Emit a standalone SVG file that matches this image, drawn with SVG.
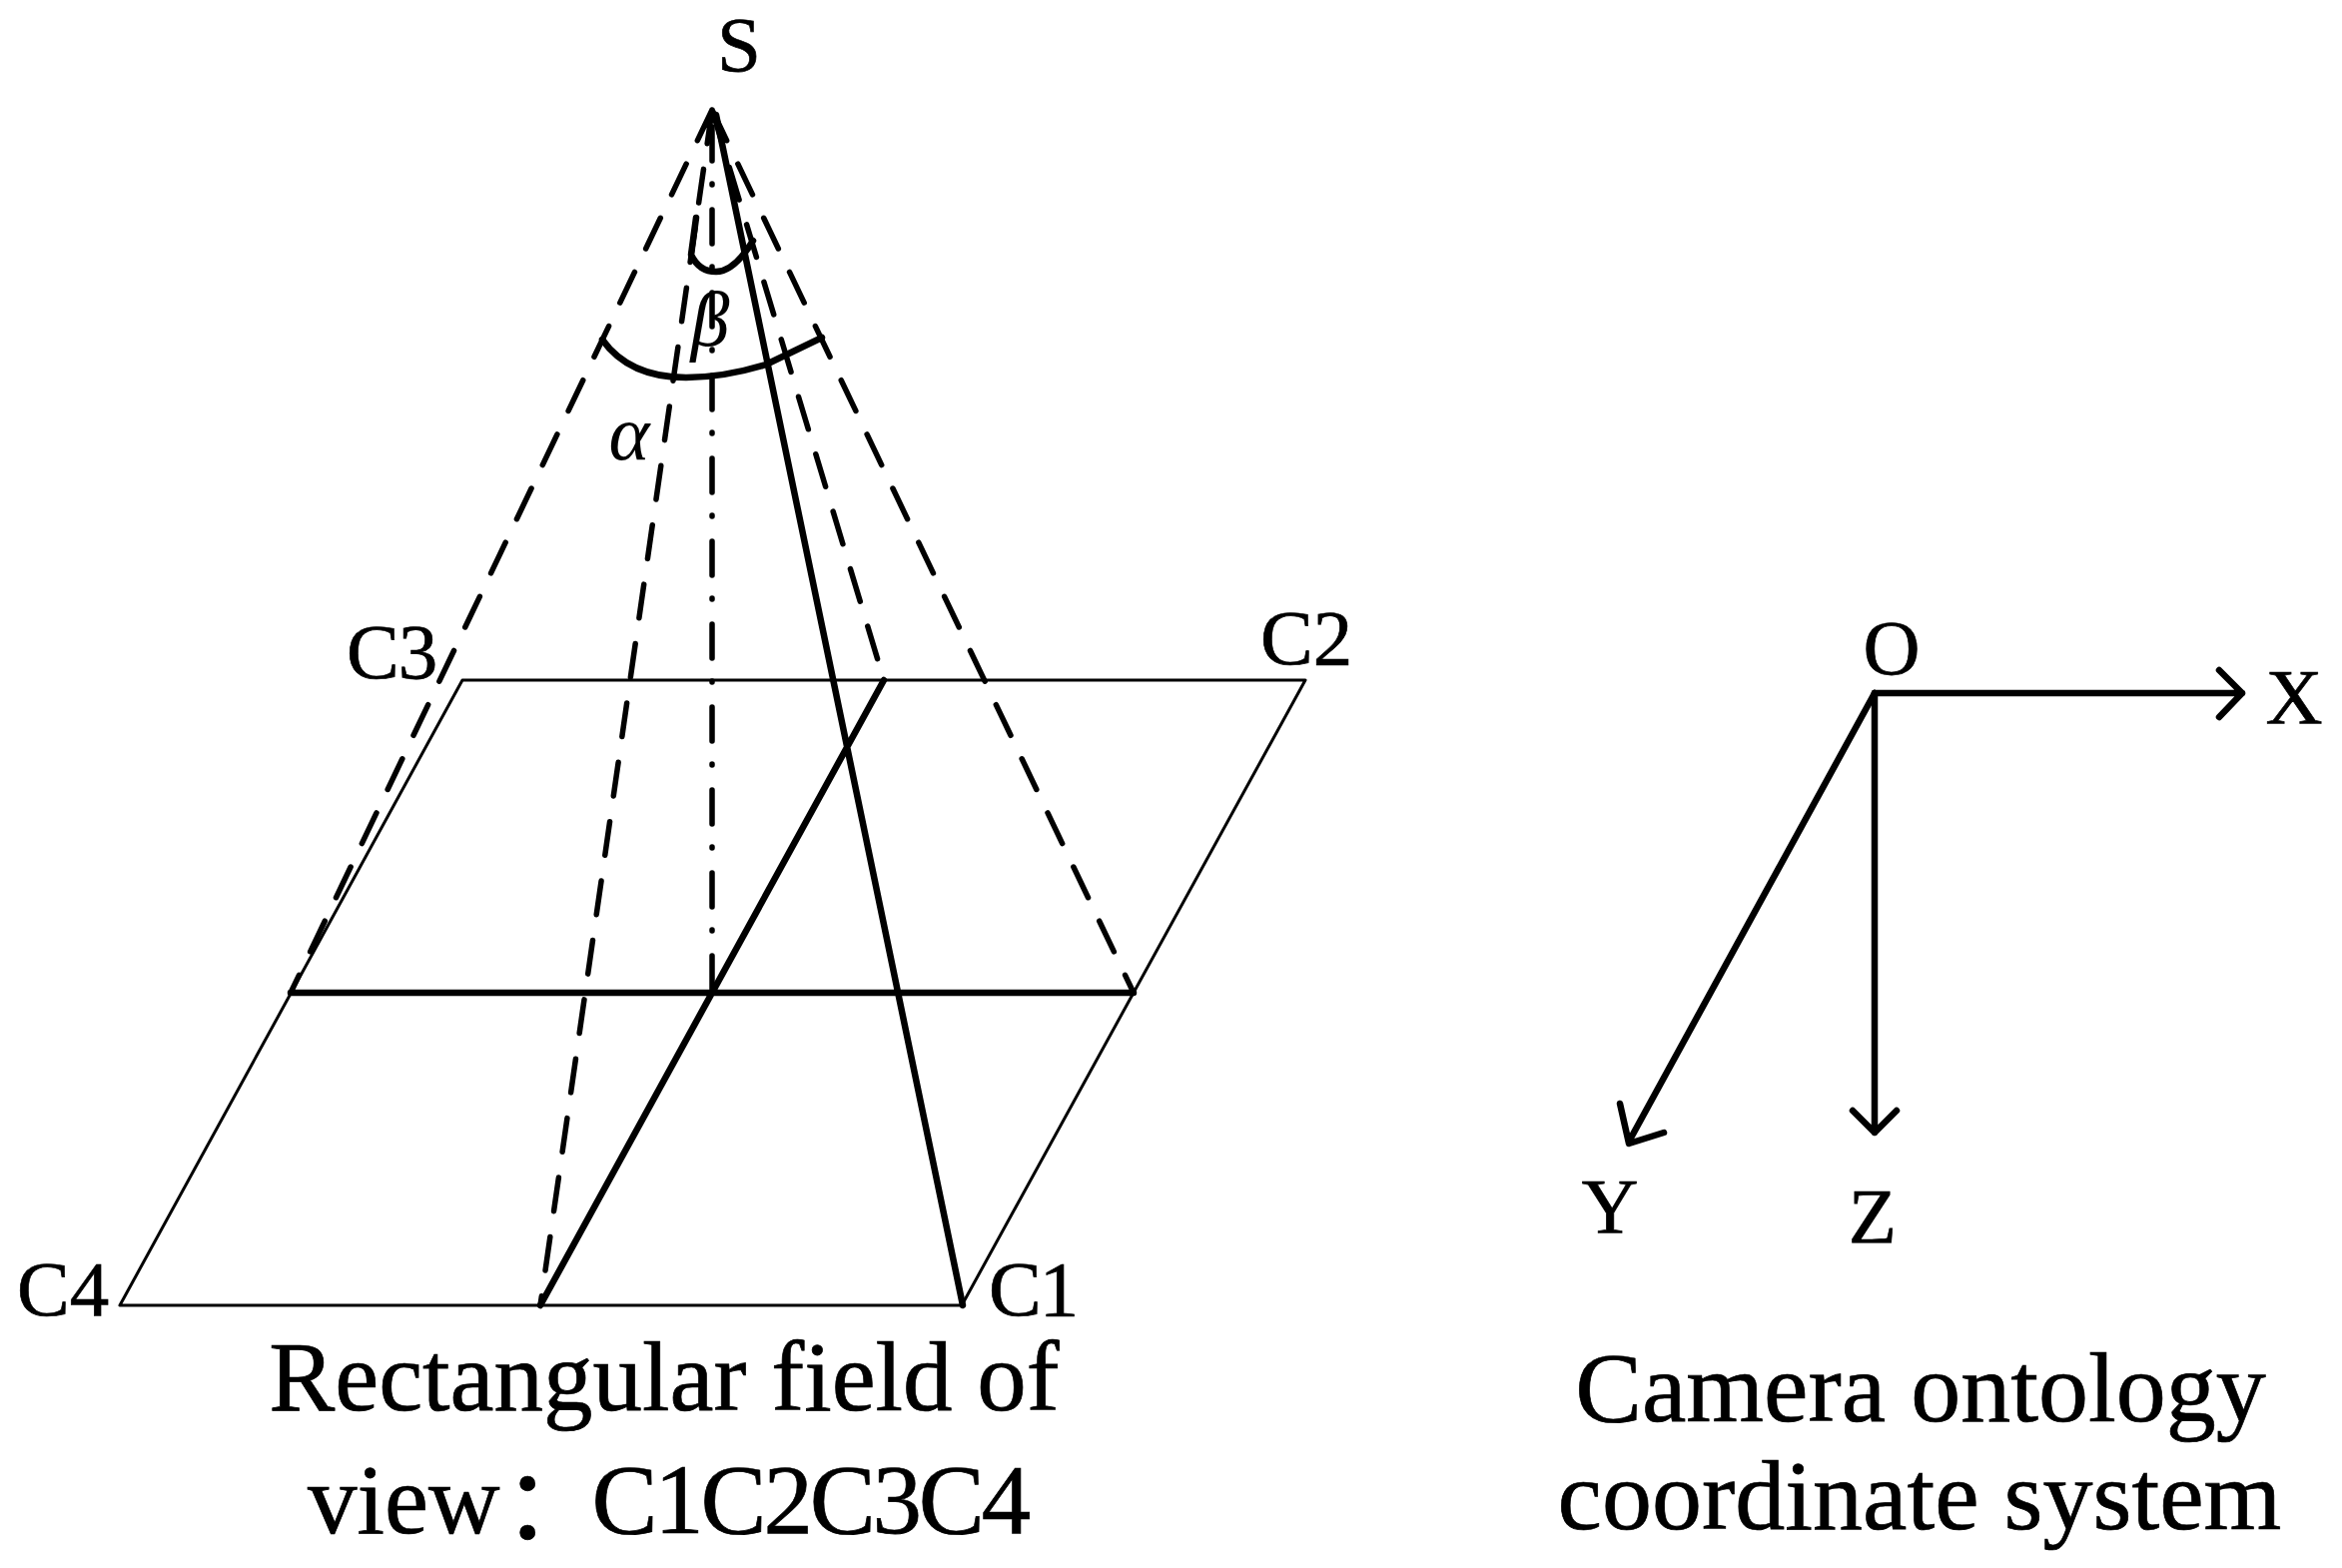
<svg xmlns="http://www.w3.org/2000/svg" width="2345" height="1570" viewBox="0 0 2345 1570">
<style>
text{font-family:"Liberation Serif","Times New Roman",serif;fill:#000;stroke:#000;stroke-width:.7px}
.l{font-size:79px}.c{font-size:99px}.w{font-size:100px}
.i{font-style:italic;font-size:78px;stroke-width:0}
.cj{font-family:"Noto Sans CJK SC","Liberation Serif",serif}
.s{fill:none;stroke:#000;stroke-linecap:round;stroke-linejoin:round}
.th{stroke-width:3}.m{stroke-width:6.5}
.d{stroke-width:5.5;stroke-dasharray:34 26}
.dd{stroke-width:5.5;stroke-dasharray:34 23 1 25}
</style>
<rect width="2345" height="1570" fill="#fff"/>
<g id="connectors">
<path class="s th" d="M120 1307H963L1307 681H463Z"/>
<path class="s m" d="M291 994H1135M541 1307L885 681M717 115L964 1307"/>
<path class="s d" d="M713 110L291 994M713 110L1135 994M713 110L541 1307M713 110L885 681"/>
<path class="s dd" d="M713 127V994"/>
<path class="s m" d="M603 340Q630 378 687 378Q725 378 767 365L823 338"/>
<path class="s m" d="M697 218L692 255Q700 272 717 272Q735 272 754 241"/>
<path class="s m" d="M1877 694H2245M2222 671L2245 694L2222 718"/>
<path class="s m" d="M1877 694V1134M1855 1112L1877 1134L1899 1112"/>
<path class="s m" d="M1877 694L1631 1143M1622 1105L1631 1145L1666 1134"/>
</g>
<g id="apex"><text class="l" x="740" y="71" text-anchor="middle">S</text></g>
<g id="alpha"><text class="i" x="630" y="460" text-anchor="middle">α</text></g>
<g id="beta"><text class="i" x="711" y="346" text-anchor="middle">β</text></g>
<g id="c1"><text class="l" x="990" y="1317" letter-spacing="-2">C1</text></g>
<g id="c2"><text class="l" x="1262" y="665">C2</text></g>
<g id="c3"><text class="l" x="347" y="679" letter-spacing="-1">C3</text></g>
<g id="c4"><text class="l" x="17" y="1317">C4</text></g>
<g id="field-label"><text class="c" x="665" y="1412" text-anchor="middle">Rectangular field of</text><text class="c" x="308" y="1535">view<tspan class="cj" dx="3" dy="6">：</tspan><tspan dx="-10" dy="-6" letter-spacing="-3.2">C1C2C3C4</tspan></text></g>
<g id="origin"><text class="l" x="1894" y="675" text-anchor="middle">O</text></g>
<g id="x-label"><text class="l" x="2297" y="724" text-anchor="middle">X</text></g>
<g id="y-label"><text class="l" x="1612" y="1234" text-anchor="middle">Y</text></g>
<g id="z-label"><text class="l" x="1875" y="1244" text-anchor="middle">Z</text></g>
<g id="camera-label"><text class="w" x="1923" y="1423" text-anchor="middle">Camera ontology</text><text class="w" x="1922" y="1531" text-anchor="middle">coordinate system</text></g>
</svg>
